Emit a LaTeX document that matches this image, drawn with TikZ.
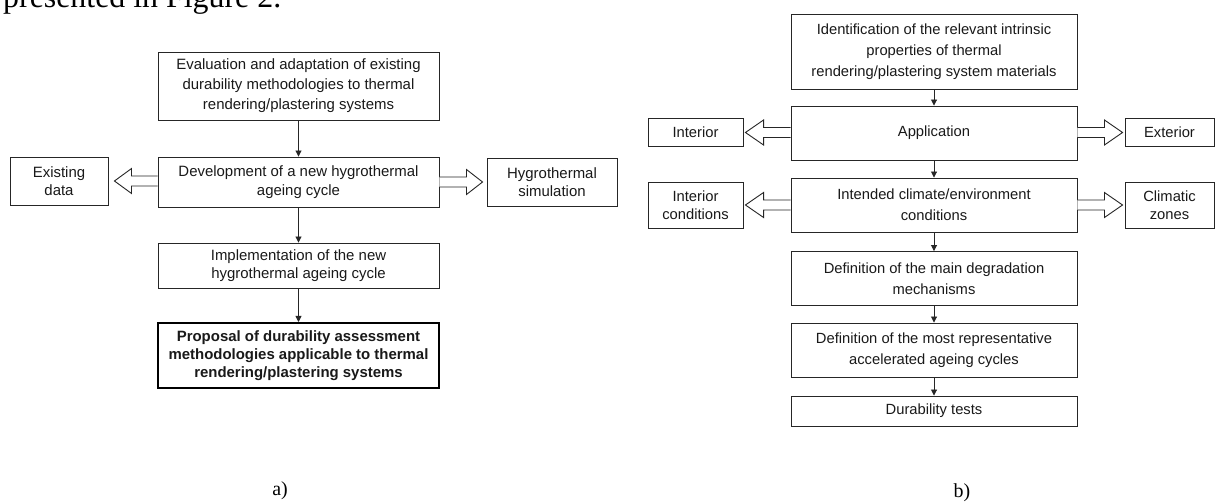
\documentclass[tikz,border=0pt]{standalone}
\usepackage{fontspec}
\setmainfont{Liberation Sans}
\newfontfamily\capserif{Liberation Serif}
\usetikzlibrary{arrows.meta,calc}
\newcommand\holarrow[3]{%
  \filldraw[hol] ($#1+(0,-5)$) -- ($#1+(#3,-5)$) -- ($#1+(#3,-12.5)$) -- #2
    -- ($#1+(#3,12.5)$) -- ($#1+(#3,5)$) -- ($#1+(0,5)$);}
\begin{document}
\begin{tikzpicture}[x=1bp,y=-1bp,
  box/.style={draw=black!85,line width=0.9bp,inner sep=0pt,align=center,text=black!90},
  lbox/.style={box,font=\fontsize{15}{18}\selectfont},
  rbox/.style={box,font=\fontsize{14.8}{21.2}\selectfont},
  arr/.style={draw=black!85,line width=0.9bp,-{Triangle[length=6bp,width=6bp]}},
  hol/.style={draw=black!85,line width=0.9bp,fill=white,line join=miter},
  capstyle/.style={font=\capserif\fontsize{20}{22}\selectfont,inner sep=0pt}]
\useasboundingbox[fill=white] (0,0) rectangle (1218,504);

\node[font=\capserif\fontsize{32}{34}\selectfont,anchor=base west,inner sep=0pt] (intro) at (3,8) {presented in Figure 2.};

% ---- a) ----
\node[lbox,minimum width=281bp,minimum height=68bp,font=\fontsize{15}{20}\selectfont] (t1) at (298.5,86)
  {Evaluation and adaptation of existing\\durability methodologies to thermal\\rendering/plastering systems};
\node[lbox,minimum width=281bp,minimum height=50bp,font=\fontsize{15}{19}\selectfont] (d) at (298.5,182)
  {Development of a new hygrothermal\\ageing cycle};
\node[lbox,minimum width=98bp,minimum height=48bp] (ex) at (59,181) {Existing\\data};
\node[lbox,minimum width=130bp,minimum height=48bp] (hy) at (552,182) {Hygrothermal\\simulation};
\node[lbox,minimum width=281bp,minimum height=45bp] (im) at (298.5,265.5)
  {Implementation of the new\\hygrothermal ageing cycle};
\node[lbox,minimum width=281bp,minimum height=65bp,line width=2bp,draw=black,font=\bfseries\fontsize{15}{18}\selectfont] (pr) at (298.5,355.5)
  {Proposal of durability assessment\\methodologies applicable to thermal\\rendering/plastering systems};
\node[capstyle] (la) at (280,491) {a)};

\draw[arr] (t1) -- (d);
\draw[arr] (d) -- (im);
\draw[arr] (im) -- (pr);
\holarrow{(d.west|-ex.east)}{($(ex.east)+(6,0)$)}{-26}
\holarrow{(d.east|-hy.west)}{($(hy.west)+(-4,0)$)}{27}

% ---- b) ----
\node[rbox,minimum width=286bp,minimum height=75bp] (rt) at (934,51.7)
  {Identification of the relevant intrinsic\\properties of thermal\\rendering/plastering system materials};
\node[rbox,minimum width=286bp,minimum height=54bp] (ap) at (934,133) {Application};
\node[rbox,minimum width=95bp,minimum height=28bp] (in1) at (695.5,132.5) {Interior};
\node[rbox,minimum width=89bp,minimum height=28bp] (ex1) at (1169.5,132.5) {Exterior};
\node[rbox,minimum width=286bp,minimum height=54bp] (ic) at (934,205)
  {Intended climate/environment\\conditions};
\node[rbox,minimum width=95bp,minimum height=46bp,font=\fontsize{14.8}{18.5}\selectfont] (in2) at (695.5,205) {Interior\\conditions};
\node[rbox,minimum width=89bp,minimum height=46bp,font=\fontsize{14.8}{18.5}\selectfont] (cl) at (1169.5,205) {Climatic\\zones};
\node[rbox,minimum width=286bp,minimum height=54bp] (d1) at (934,278.5)
  {Definition of the main degradation\\mechanisms};
\node[rbox,minimum width=286bp,minimum height=54bp] (d2) at (934,350)
  {Definition of the most representative\\accelerated ageing cycles};
\node[rbox,minimum width=286bp,minimum height=30bp] (du) at (934,411) {Durability tests};
\node[capstyle] (lb) at (962,493) {b)};

\draw[arr] (rt) -- (ap);
\draw[arr] (ap) -- (ic);
\draw[arr] (ic) -- (d1);
\draw[arr] (d1) -- (d2);
\draw[arr] (d2) -- (du);
\holarrow{(ap.west|-in1.east)}{($(in1.east)+(2,0)$)}{-27}
\holarrow{(ap.east|-ex1.west)}{($(ex1.west)+(-2,0)$)}{27}
\holarrow{(ic.west|-in2.east)}{($(in2.east)+(2,0)$)}{-27}
\holarrow{(ic.east|-cl.west)}{($(cl.west)+(-2,0)$)}{27}
\end{tikzpicture}
\end{document}
